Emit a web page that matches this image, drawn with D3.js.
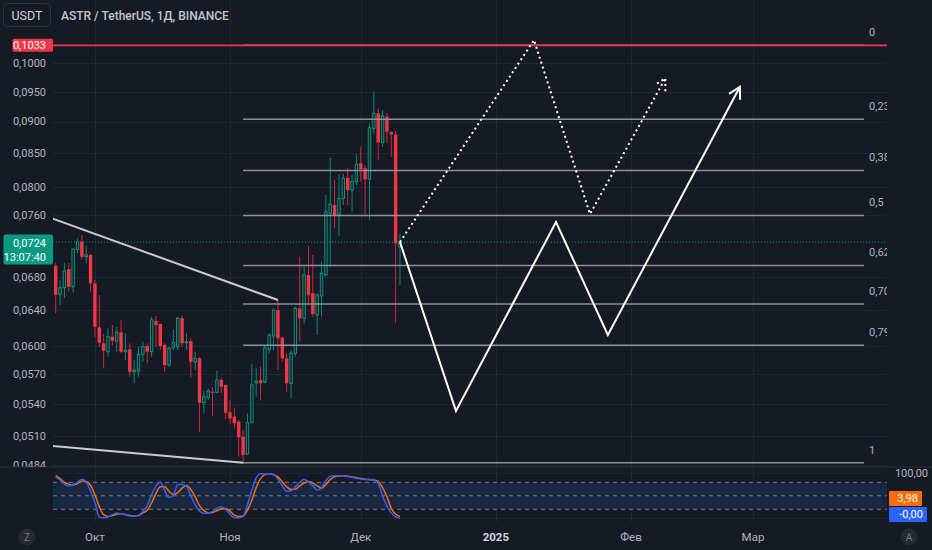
<!DOCTYPE html>
<html><head><meta charset="utf-8">
<script src="https://cdn.jsdelivr.net/npm/d3@7"></script>
<style>
body{margin:0;background:#161a25;overflow:hidden}
svg{display:block;font-family:Roboto,"Noto Sans",sans-serif}
</style>
</head><body>
<svg id="c" width="932" height="550"></svg>
<script>
// ---------- DATA ----------
const startDate = "2024-09-22";           // date of first visible candle
const opens  = [.06937,.06591,.06667,.06895,.06679,.07145,.07244,.07051,.07073,.06720,.06206,.06030,.05939,.06102,.06058,.06151,.05939,.05964,.05728,.05738,.05911,.06000,.05939,.06277,.06244,.06011,.05798,.05986,.05993,.06308,.06036,.06055,.05832,.05868,.05416,.05469,.05525,.05519,.05643,.05592,.05323,.05281,.05233,.05093,.04937,.05224,.05615,.05643,.05622,.05964,.06110,.06403,.06091,.05868,.05609,.05922,.06423,.06308,.06822,.06600,.06346,.06568,.06822,.07626,.07741,.07612,.07835,.08133,.07954,.08074,.08347,.08272,.08109,.08892,.09136,.08670,.09080,.08833,.08793,.07180];
const highs  = [.06971,.06760,.06971,.06975,.07162,.07289,.07333,.07188,.07094,.06760,.06579,.06132,.06195,.06232,.06213,.06289,.06140,.06030,.05850,.05993,.06047,.06030,.06326,.06334,.06251,.06030,.05993,.06184,.06326,.06338,.06140,.06084,.05939,.05885,.05534,.05559,.05569,.05738,.05670,.05599,.05442,.05367,.05249,.05155,.05313,.05805,.05763,.05780,.06011,.06140,.06423,.06520,.06102,.05922,.05957,.06442,.07051,.06946,.07188,.07073,.06600,.06987,.07882,.08427,.08099,.08187,.08187,.08272,.08173,.08484,.08601,.08321,.08973,.09500,.09218,.09190,.09142,.08837,.08848,.07357];
const lows   = [.06366,.06462,.06544,.06619,.06607,.07094,.07017,.06967,.06619,.06102,.05993,.05763,.05885,.06011,.05939,.05922,.05850,.05676,.05609,.05676,.05832,.05816,.05885,.05993,.05957,.05728,.05780,.05957,.05957,.05993,.05957,.05670,.05745,.05139,.05313,.05442,.05287,.05509,.05509,.05256,.05212,.05171,.04913,.04850,.04928,.05218,.05475,.05442,.05609,.05922,.05957,.05745,.05832,.05525,.05459,.05885,.06047,.06251,.06482,.06326,.06121,.06326,.06801,.06925,.07426,.07320,.07741,.07741,.07648,.08026,.08074,.07579,.07534,.08812,.08397,.08597,.08659,.08447,.06257,.06699];
const closes = [.06583,.06667,.06871,.06679,.07149,.07244,.07051,.07076,.06720,.06213,.06036,.05949,.06102,.06058,.06151,.05939,.05957,.05728,.05745,.05911,.05993,.05939,.06289,.06232,.06000,.05798,.05975,.06040,.06308,.06030,.06047,.05832,.05868,.05416,.05475,.05532,.05519,.05643,.05575,.05319,.05265,.05218,.05088,.04928,.05224,.05592,.05632,.05609,.05979,.06121,.06403,.06084,.05868,.05609,.05922,.06423,.06308,.06822,.06579,.06357,.06579,.06843,.07648,.07751,.07603,.07835,.08124,.07954,.08074,.08332,.08261,.08109,.08902,.09136,.08670,.09092,.08837,.08793,.07224,.07240];

const stochK = [92,85,76,72,75,80,87,81,60,35,3,1,3,8,12,10,8,5,5,6,15,28,52,72,80,62,46,51,75,75,71,50,30,16,11,12,15,22,25,20,9,1.5,1.5,5,30,62,90,99,99,99,97,87,72,60,61,70,80,87,81,72,63,68,84,93,94.5,94.5,94,93,91,89,87.5,86.5,86,85,78,50,27,12,3,0];
const stochD = [95,88,80,76,74,77,83,82,73,52,26,8,4,6,9,10,8,6,5,6,12,18,34,55,70,70,60,53,57,67,73,64,48,28,17,12,13,17,21,22,16,7,4,5,18,40,68,88,97,99,97,92,81,70,64,65,72,78,82,78,72,67,75,86,92,94,94.5,93.5,92,90,88.5,87,86,85,82,68,48,22,9,3.98];
const stochBands = [80, 50, 20];

const priceTicks = [0.1000,0.0950,0.0900,0.0850,0.0800,0.0760,0.0680,0.0640,0.0600,0.0570,0.0540,0.0510,0.0484];
const monthTicks = ["2024-10-01","2024-11-01","2024-12-01","2025-01-01","2025-02-01","2025-03-01"];
const monthLabels = ["Окт","Ноя","Дек","2025","Фев","Мар"];
const yearTick = "2025";

const fibLevels = [0, 0.236, 0.382, 0.5, 0.62, 0.705, 0.79, 1];
const fibLabels = ["0","0,236","0,382","0,5","0,62","0,705","0,79","1"];
const fibHigh = 0.1033, fibLow = 0.0486;
const fibSpan = [43, 185.5];               // day offsets from startDate

const alertPrice = 0.1033;
const lastPrice = 0.0724;
const countdown = "13:07:40";
const stochLastK = "-0,00", stochLastD = "3,98";
const stochTopLabel = "100,00";
const title = "ASTR / TetherUS, 1Д, BINANCE";
const currency = "USDT";

// drawings: [day offset, price]
const upperTrend = [[-1, 0.0756], [51, 0.0652]];
const lowerTrend = [[-1, 0.0501], [43, 0.0486]];
const solidPath  = [[79, 0.0724], [91.85, 0.05335], [114.8, 0.07507], [126.7, 0.06121], [157, 0.09586]];
const dottedPath = [[79, 0.0724], [109.75, 0.1043], [122.6, 0.07616], [139.9, 0.09733]];

// ---------- LAYOUT ----------
const W = 932, H = 550;
const paneL = 53, paneR = 887, mainTop = 0, mainBot = 466.5, stTop = 467, stBot = 522;
const BG = "#161a25", GRID = "#222633", TXT = "#b2b5be";
const UP = "#089981", DN = "#f23645";
const DAY = 864e5;
const t0 = new Date(startDate + "T00:00:00Z").getTime();
const dayToDate = d => new Date(t0 + d * DAY);

const x = d3.scaleUtc().domain([dayToDate(-0.62), dayToDate(190.75)]).range([paneL, paneR]);
const y = d3.scaleLog().domain([0.048265, 0.11212]).range([mainBot, mainTop]);
const ys = d3.scaleLinear().domain([0, 100]).range([518.3, 473.3]);
const fmt4 = v => d3.format(".4f")(v).replace(".", ",");

const svg = d3.select("#c");
svg.append("rect").attr("width", W).attr("height", H).attr("fill", BG);
const defs = svg.append("defs");
defs.append("clipPath").attr("id", "mainClip").append("rect")
  .attr("x", paneL).attr("y", mainTop).attr("width", paneR - paneL).attr("height", mainBot - mainTop);
defs.append("clipPath").attr("id", "stClip").append("rect")
  .attr("x", paneL).attr("y", stTop).attr("width", paneR - paneL).attr("height", stBot - stTop);
defs.append("clipPath").attr("id", "axClip").append("rect")
  .attr("x", 0).attr("y", 0).attr("width", paneL).attr("height", mainBot);

// ---------- GRID ----------
const grid = svg.append("g");
grid.selectAll(".hg").data(priceTicks).join("line")
  .attr("x1", paneL).attr("x2", paneR)
  .attr("y1", d => Math.round(y(d)) + 0.5).attr("y2", d => Math.round(y(d)) + 0.5)
  .attr("stroke", GRID).attr("stroke-width", 1);
grid.selectAll(".vg").data(monthTicks).join("line")
  .attr("x1", d => Math.round(x(new Date(d + "T00:00:00Z"))) + 0.5)
  .attr("x2", d => Math.round(x(new Date(d + "T00:00:00Z"))) + 0.5)
  .attr("y1", 0).attr("y2", stBot)
  .attr("stroke", GRID).attr("stroke-width", 1);
svg.append("line").attr("x1", 0).attr("x2", W).attr("y1", mainBot + 0.5).attr("y2", mainBot + 0.5)
  .attr("stroke", "#2a2e39").attr("stroke-width", 1);

// ---------- MAIN PANE ----------
const main = svg.append("g").attr("clip-path", "url(#mainClip)");

main.append("line").attr("x1", paneL).attr("x2", paneR)
  .attr("y1", y(lastPrice)).attr("y2", y(lastPrice))
  .attr("stroke", UP).attr("stroke-width", 1).attr("stroke-dasharray", "1,2");

const candles = opens.map((o, i) => ({i, o, h: highs[i], l: lows[i], c: closes[i]}));
const cg = main.append("g");
cg.selectAll(".wick").data(candles).join("line")
  .attr("x1", d => x(dayToDate(d.i))).attr("x2", d => x(dayToDate(d.i)))
  .attr("y1", d => y(d.h)).attr("y2", d => y(d.l))
  .attr("stroke", d => d.c >= d.o ? "#0a8a73" : "#c92c3b").attr("stroke-width", 1);
cg.selectAll(".body").data(candles).join("rect")
  .attr("x", d => x(dayToDate(d.i)) - (d.c >= d.o ? 1.2 : 1.7))
  .attr("width", d => d.c >= d.o ? 2.4 : 3.4)
  .attr("y", d => y(Math.max(d.o, d.c)))
  .attr("height", d => Math.max(1, y(Math.min(d.o, d.c)) - y(Math.max(d.o, d.c))))
  .attr("fill", d => d.c >= d.o ? BG : DN)
  .attr("stroke", d => d.c >= d.o ? UP : "none")
  .attr("stroke-width", 1);

const fibPrice = l => fibHigh - l * (fibHigh - fibLow);
const fg = main.append("g");
fg.selectAll("line").data(fibLevels).join("line")
  .attr("x1", x(dayToDate(fibSpan[0]))).attr("x2", x(dayToDate(fibSpan[1])))
  .attr("y1", d => y(fibPrice(d))).attr("y2", d => y(fibPrice(d)))
  .attr("stroke", "#8e919a").attr("stroke-width", 1.5);
fg.selectAll("text").data(fibLevels).join("text")
  .attr("x", x(dayToDate(fibSpan[1])) + 5)
  .attr("y", d => y(fibPrice(d)) - 13)
  .attr("dy", "0.35em").attr("fill", TXT).attr("font-size", 11)
  .text((d, i) => fibLabels[i]);

main.append("line").attr("x1", paneL).attr("x2", paneR)
  .attr("y1", y(alertPrice)).attr("y2", y(alertPrice))
  .attr("stroke", DN).attr("stroke-width", 1.6);

const pt = p => [x(dayToDate(p[0])), y(p[1])];
const line = d3.line();
[upperTrend, lowerTrend].forEach(tl => {
  main.append("path").attr("d", line(tl.map(pt)))
    .attr("fill", "none").attr("stroke", "#c9cbd1").attr("stroke-width", 2);
});

function arrowPath(points, dashed) {
  const px = points.map(pt);
  const g = main.append("g");
  g.append("path").attr("d", line(px)).attr("fill", "none")
    .attr("stroke", "#ffffff").attr("stroke-width", 2)
    .attr("stroke-linejoin", "miter")
    .attr("stroke-dasharray", dashed ? "2,3.2" : null);
  const a = px[px.length - 2], b = px[px.length - 1];
  const ang = Math.atan2(b[1] - a[1], b[0] - a[0]);
  const L = 13, sp = 0.5;
  const w1 = [b[0] - L * Math.cos(ang - sp), b[1] - L * Math.sin(ang - sp)];
  const w2 = [b[0] - L * Math.cos(ang + sp), b[1] - L * Math.sin(ang + sp)];
  g.append("path").attr("d", line([w1, b, w2])).attr("fill", "none")
    .attr("stroke", "#ffffff").attr("stroke-width", 2)
    .attr("stroke-dasharray", dashed ? "2,3.2" : null);
}
arrowPath(dottedPath, true);
arrowPath(solidPath, false);

// ---------- LEFT PRICE AXIS ----------
const ax = svg.append("g").attr("clip-path", "url(#axClip)");
ax.selectAll("text").data(priceTicks).join("text")
  .attr("x", 46).attr("y", d => y(d)).attr("dy", "0.35em")
  .attr("text-anchor", "end").attr("fill", TXT).attr("font-size", 11)
  .text(d => fmt4(d));

const ry = y(alertPrice);
svg.append("rect").attr("x", 12.5).attr("y", ry - 6.5).attr("width", paneL - 12.5).attr("height", 13)
  .attr("rx", 1.5).attr("fill", DN);
svg.append("text").attr("x", 46).attr("y", ry).attr("dy", "0.35em").attr("text-anchor", "end")
  .attr("fill", "#fff").attr("font-size", 11).text(fmt4(alertPrice));

const ly = y(lastPrice);
svg.append("rect").attr("x", 3.5).attr("y", ly - 7.5).attr("width", paneL - 3.5).attr("height", 30)
  .attr("rx", 2).attr("fill", UP);
svg.append("text").attr("x", 46).attr("y", ly + 1).attr("dy", "0.35em").attr("text-anchor", "end")
  .attr("fill", "#fff").attr("font-size", 11).text(fmt4(lastPrice));
svg.append("text").attr("x", 46).attr("y", ly + 15).attr("dy", "0.35em").attr("text-anchor", "end")
  .attr("fill", "#fff").attr("font-size", 11).text(countdown);

// ---------- STOCHASTIC PANE ----------
const st = svg.append("g").attr("clip-path", "url(#stClip)");
st.append("rect").attr("x", paneL).attr("width", paneR - paneL)
  .attr("y", ys(stochBands[0])).attr("height", ys(stochBands[2]) - ys(stochBands[0]))
  .attr("fill", "#1a2740");
st.selectAll(".gl").data([0, 100]).join("line")
  .attr("x1", paneL).attr("x2", paneR).attr("y1", d => ys(d)).attr("y2", d => ys(d))
  .attr("stroke", GRID);
st.selectAll(".band").data(stochBands).join("line")
  .attr("x1", paneL).attr("x2", paneR).attr("y1", d => ys(d)).attr("y2", d => ys(d))
  .attr("stroke", "#787b86").attr("stroke-width", 1).attr("stroke-dasharray", "4,4");
const sline = d3.line().x((d, i) => x(dayToDate(i))).y(d => ys(d)).curve(d3.curveMonotoneX);
st.append("path").attr("d", sline(stochD)).attr("fill", "none").attr("stroke", "#ff6d00").attr("stroke-width", 1.5);
st.append("path").attr("d", sline(stochK)).attr("fill", "none").attr("stroke", "#2962ff").attr("stroke-width", 1.5);

svg.append("text").attr("x", 928).attr("y", ys(100)).attr("dy", "0.35em").attr("text-anchor", "end")
  .attr("fill", TXT).attr("font-size", 11).text(stochTopLabel);
svg.append("rect").attr("x", 889).attr("y", 491).attr("width", 33).attr("height", 15).attr("rx", 1).attr("fill", "#ff6d00");
svg.append("text").attr("x", 918).attr("y", 498.5).attr("dy", "0.35em").attr("text-anchor", "end")
  .attr("fill", "#fff").attr("font-size", 11).text(stochLastD);
svg.append("rect").attr("x", 889).attr("y", 507).attr("width", 38).attr("height", 15).attr("rx", 1).attr("fill", "#2962ff");
svg.append("text").attr("x", 923).attr("y", 514.5).attr("dy", "0.35em").attr("text-anchor", "end")
  .attr("fill", "#fff").attr("font-size", 11).text(stochLastK);

// ---------- TIME AXIS ----------
svg.selectAll(".tl").data(monthTicks).join("text")
  .attr("x", d => x(new Date(d + "T00:00:00Z"))).attr("y", 537).attr("dy", "0.35em")
  .attr("text-anchor", "middle").attr("font-size", 11.5)
  .attr("fill", (d, i) => monthLabels[i] === yearTick ? "#d1d4dc" : TXT)
  .attr("font-weight", (d, i) => monthLabels[i] === yearTick ? 700 : 400)
  .text((d, i) => monthLabels[i]);

[[27, "Z"], [909, "A"]].forEach(([cx, t]) => {
  svg.append("circle").attr("cx", cx).attr("cy", 537).attr("r", 8.5).attr("fill", "#262a35");
  svg.append("text").attr("x", cx).attr("y", 537).attr("dy", "0.35em").attr("text-anchor", "middle")
    .attr("fill", "#787b86").attr("font-size", 10).text(t);
});

// ---------- HEADER ----------
svg.append("rect").attr("x", 3.5).attr("y", 3.5).attr("width", 47).attr("height", 23).attr("rx", 4)
  .attr("fill", BG).attr("stroke", "#2e323e");
svg.append("text").attr("x", 27).attr("y", 15.5).attr("dy", "0.35em").attr("text-anchor", "middle")
  .attr("fill", "#d1d4dc").attr("font-size", 12.5).text(currency);
svg.append("text").attr("x", 61).attr("y", 15.5).attr("dy", "0.35em")
  .attr("fill", "#c3c6ce").attr("font-size", 12).attr("font-weight", 500).text(title);
</script>
</body></html>
